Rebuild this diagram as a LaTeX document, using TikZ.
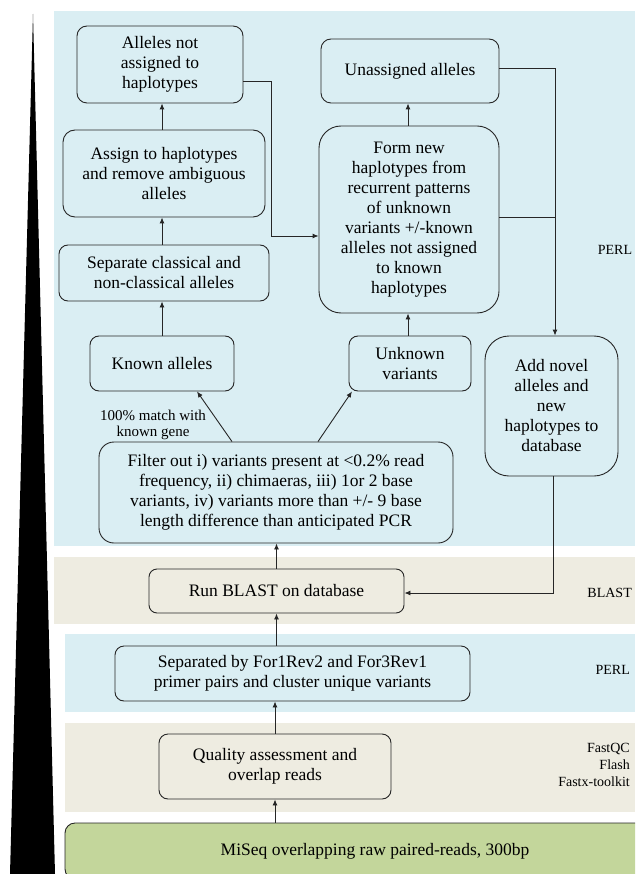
\documentclass[tikz,border=0pt]{standalone}
\usepackage{fontspec}
\setmainfont{Liberation Serif}
\usetikzlibrary{arrows.meta,calc}
\definecolor{bandblue}{HTML}{DAEEF3}
\definecolor{bandbeige}{HTML}{EEECE1}
\definecolor{bandgreen}{HTML}{C3D69B}
\definecolor{linec}{HTML}{262626}
\begin{document}
\begin{tikzpicture}[x=1pt,y=-1pt,
  box/.style={draw=linec, line width=0.9pt, rounded corners=#1, align=center, inner sep=0pt, text=black, font=\fontsize{17.5}{20}\selectfont},
  box/.default=9pt,
  conn/.style={draw=linec, line width=0.9pt},
  arr/.style={conn,-{Latex[length=6pt,width=5pt]}},
  side/.style={font=\fontsize{14}{17}\selectfont, align=right, inner sep=0pt},
  band/.style={draw=none}]
\useasboundingbox (0,0) rectangle (635,874);
\clip (0,0) rectangle (635,874);
% wedge
\fill[black] (33,14) -- (10,874) -- (55,874) -- cycle;
% bands
\fill[bandblue] (54,11) rectangle (635,546);
\fill[bandbeige] (54,557) rectangle (635,624);
\fill[bandblue] (65,634) rectangle (635,712);
\fill[bandbeige] (65,723) rectangle (635,812);
% left column
\node[box=10pt, minimum width=166pt, minimum height=77pt] (A1) at (160,64.5) {Alleles not\\assigned to\\haplotypes};
\node[box=12pt, minimum width=202pt, minimum height=87pt] (A2) at (164,173.5) {Assign to haplotypes\\and remove ambiguous\\alleles};
\node[box=9pt, minimum width=210pt, minimum height=56pt] (A3) at (164,273) {Separate classical and\\non-classical alleles};
\node[box=9pt, minimum width=144pt, minimum height=55pt] (A4) at (162,363.5) {Known alleles};
% middle column
\node[box=10pt, minimum width=178pt, minimum height=64pt] (B1) at (410,71) {Unassigned alleles};
\node[box=22pt, minimum width=180pt, minimum height=187pt] (B2) at (409,219.5) {Form new\\haplotypes from\\recurrent patterns\\of unknown\\variants +/-known\\alleles not assigned\\to known\\haplotypes};
\node[box=9pt, minimum width=122pt, minimum height=55pt] (B3) at (410,363.5) {Unknown\\variants};
% right
\node[box=24pt, minimum width=133pt, minimum height=140pt] (C) at (551.5,406) {Add novel\\alleles and\\new\\haplotypes to\\database};
% lower chain
\node[box=15pt, minimum width=354pt, minimum height=101pt] (F) at (276,492.5) {Filter out i) variants present at <0.2\% read\\frequency, ii) chimaeras, iii) 1or 2 base\\variants, iv) variants more than +/- 9 base\\length difference than anticipated PCR};
\node[box=8pt, minimum width=255pt, minimum height=44pt] (R) at (276.5,591) {Run BLAST on database};
\node[box=9pt, minimum width=355pt, minimum height=55pt] (S) at (292.5,673.5) {Separated by For1Rev2 and For3Rev1\\primer pairs and cluster unique variants};
\node[box=9pt, minimum width=232pt, minimum height=65pt] (Q) at (275,766.5) {Quality assessment and\\overlap reads};
\node[box=10pt, fill=bandgreen, minimum width=620pt, minimum height=56pt] (M) at (375,851) {MiSeq overlapping raw paired-reads, 300bp};
% labels
\node[font=\fontsize{15}{16}\selectfont, align=center, inner sep=0pt] (lab) at (153,425) {100\% match with\\known gene};
\node[side] (p1) at (615,250) {PERL};
\node[side, anchor=east] (bl) at (632,593) {BLAST};
\node[side, anchor=east] (p2) at (630,670) {PERL};
\node[side, anchor=east] (fq) at (630,765) {FastQC\\Flash\\Fastx-toolkit};
% connectors
\draw[arr] (M.north -| Q.south) -- (Q.south);
\draw[arr] (Q.north) -- (Q.north |- S.south);
\draw[arr] (R.south |- S.north) -- (R.south);
\draw[arr] (R.north) -- (R.north |- F.south);
\draw[arr] ([xshift=-44pt]F.north) -- ([xshift=35pt]A4.south);
\draw[arr] ([xshift=42pt]F.north) -- ([xshift=-58pt]B3.south);
\draw[arr] (A4.north) -- (A4.north |- A3.south);
\draw[arr] (A4.north |- A3.north) -- (A4.north |- A2.south);
\draw[arr] (A4.north |- A2.north) -- (A4.north |- A1.south);
\draw[arr] ([xshift=-2pt]B3.north) -- ([xshift=-2pt]B3.north |- B2.south);
\draw[arr] ([xshift=-2pt]B3.north |- B2.north) -- ([xshift=-2pt]B3.north |- B1.south);
\coordinate (j1) at (271,81);
\coordinate (j2) at (271,236);
\draw[arr] ([yshift=-16.5pt]A1.east) -- (j1) -- (j2) -- (j2 -| B2.west);
\coordinate (k1) at (555,68);
\draw[arr] ([yshift=3pt]B1.east) -- (k1) -- (k1 |- C.north);
\draw[conn] ([yshift=2.5pt]B2.east) -- ([yshift=2.5pt]B2.east -| k1);
\coordinate (c1) at (553,593);
\draw[arr] (c1 |- C.south) -- (c1) -- (c1 -| R.east);
\end{tikzpicture}
\end{document}
